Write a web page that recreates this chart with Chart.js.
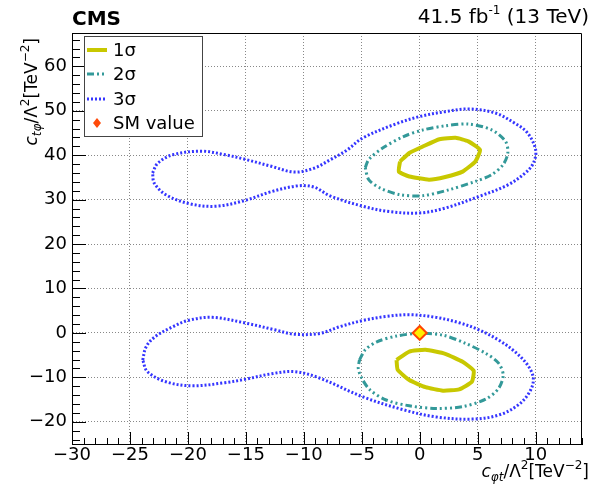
<!DOCTYPE html>
<html>
<head>
<meta charset="utf-8">
<script src="https://cdn.jsdelivr.net/npm/chart.js@4"></script>
<style>
  html, body { margin: 0; padding: 0; background: #fff; }
</style>
</head>
<body>
<canvas id="chart" width="591" height="495"></canvas>
<script>
// axis ticks
const xTicks = [-30, -25, -20, -15, -10, -5, 0, 5, 10];
const yTicks = [-20, -10, 0, 10, 20, 30, 40, 50, 60];
const legendLabels = ["1σ", "2σ", "3σ", "SM value"];

// contours, [c_phit, c_tphi]
const sigma1Upper = [[-1.7,38.6],[-0.9,40.5],[0.3,42.0],[1.7,43.6],[3.1,43.9],[4.2,43.1],[5.2,41.2],[4.8,38.6],[3.7,36.3],[2.2,35.1],[0.8,34.5],[-0.9,35.2],[-1.8,36.3],[-1.7,38.6]];
const sigma1Lower = [[-2.0,-6.1],[-0.9,-4.2],[0.5,-3.8],[2.2,-4.7],[3.7,-6.5],[4.65,-8.5],[4.5,-11.0],[3.4,-12.7],[2.0,-13.0],[0.5,-12.2],[-0.9,-10.6],[-1.9,-8.3],[-2.0,-6.1]];

const sigma2Upper = [[-4.7,37.2],[-4.4,39.0],[-3.2,41.6],[-1.4,44.2],[0.3,45.7],[2.2,46.6],[4.2,47.0],[6.2,45.7],[7.4,43.1],[7.6,40.5],[7.2,37.9],[6.2,35.6],[4.8,34.1],[2.5,32.2],[0.3,30.9],[-1.7,31.1],[-3.4,32.6],[-4.4,34.5],[-4.7,37.2]];
const sigma2Lower = [[-5.2,-6.1],[-4.7,-3.8],[-3.7,-2.0],[-2.0,-0.7],[0.0,-0.1],[2.0,-0.5],[3.9,-2.3],[5.7,-4.6],[6.8,-6.8],[7.2,-9.5],[6.8,-12.5],[5.7,-14.9],[3.7,-16.6],[1.4,-17.0],[-0.9,-16.4],[-2.9,-15.1],[-4.3,-12.8],[-5.0,-10.2],[-5.3,-8.0],[-5.2,-6.1]];

const sigma3Upper = [[-23.05,36.0],[-22.6,38.2],[-21.3,40.1],[-18.8,40.9],[-16.8,40.1],[-15.1,39.1],[-12.8,37.5],[-10.8,36.2],[-9.1,37.1],[-7.7,39.0],[-6.3,41.1],[-4.9,43.9],[-2.0,47.1],[0.0,48.7],[2.2,49.8],[4.2,50.4],[6.5,49.5],[8.2,47.2],[9.3,45.0],[10.0,41.2],[9.8,38.2],[9.1,36.0],[7.6,33.3],[5.1,30.7],[2.2,28.1],[0.0,27.0],[-2.6,27.3],[-4.9,28.5],[-7.7,30.8],[-9.1,32.8],[-10.5,33.1],[-12.8,31.8],[-15.1,29.8],[-17.6,28.5],[-19.9,29.1],[-21.9,31.1],[-22.9,33.7],[-23.05,36.0]];
const sigma3Lower = [[-23.9,-6.1],[-23.6,-3.1],[-22.8,-0.8],[-21.3,1.4],[-20.0,2.8],[-17.9,3.5],[-15.0,2.2],[-12.5,0.7],[-10.8,-0.3],[-8.6,-0.1],[-6.9,1.4],[-4.9,2.8],[-2.9,3.7],[-0.9,4.1],[1.4,3.5],[3.4,2.3],[5.1,0.7],[6.8,-1.6],[8.2,-4.2],[9.3,-7.2],[9.8,-10.2],[9.5,-13.2],[8.5,-16.2],[6.8,-18.5],[4.5,-19.4],[1.4,-18.9],[-1.4,-17.3],[-4.9,-14.4],[-8.6,-10.2],[-10.8,-8.7],[-12.8,-9.2],[-15.0,-10.4],[-16.8,-11.2],[-19.6,-11.9],[-21.9,-11.0],[-23.5,-8.7],[-23.9,-6.1]];

const smPoint = [[0, 0]];

const FONT = '"DejaVu Sans", sans-serif';
const col1 = "#c8c800", col2 = "#339999", col3 = "#3535ff";
const dash2 = [7, 3, 2, 3, 2, 3, 2, 3];
const dash3 = [2, 2];

const pts = arr => arr.map(p => ({ x: p[0], y: p[1] }));
const contour = (arr, color, width, dash, tension) => ({
  data: pts(arr),
  showLine: true,
  fill: false,
  borderColor: color,
  borderWidth: width,
  borderDash: dash,
  tension: tension,
  pointRadius: 0,
  pointHoverRadius: 0,
  order: 1
});

function fontOf(s) {
  return (s.italic ? "italic " : "") + (s.bold ? "bold " : "") + s.size + "px " + FONT;
}

function drawRich(ctx, segs, x, y, align) {
  let w = 0;
  segs.forEach(s => { ctx.font = fontOf(s); w += ctx.measureText(s.t).width; });
  let cx = align === "right" ? x - w : x;
  segs.forEach(s => {
    ctx.font = fontOf(s);
    ctx.fillText(s.t, cx, y + (s.dy || 0));
    cx += ctx.measureText(s.t).width;
  });
}

const titleSegs = sub => [
  { t: "c", size: 17, italic: true },
  { t: sub, size: 12, italic: true, dy: 4 },
  { t: "/Λ", size: 17 },
  { t: "2", size: 12, dy: -8 },
  { t: "[TeV", size: 17 },
  { t: "−2", size: 12, dy: -8 },
  { t: "]", size: 17 }
];

const decor = {
  id: "decor",
  afterDraw(chart) {
    const { ctx, chartArea: a, scales: { x, y } } = chart;
    ctx.save();
    ctx.strokeStyle = "#000";
    ctx.lineWidth = 1;
    ctx.setLineDash([]);

    // top and right frame
    ctx.beginPath();
    ctx.moveTo(a.left, a.top + 0.5);
    ctx.lineTo(a.right - 0.5, a.top + 0.5);
    ctx.lineTo(a.right - 0.5, a.bottom);
    ctx.stroke();

    // inward ticks
    ctx.beginPath();
    for (let v = -30; v <= 14; v++) {
      const px = Math.round(x.getPixelForValue(v)) + 0.5;
      const len = v % 5 === 0 ? 12 : 6;
      ctx.moveTo(px, a.bottom);
      ctx.lineTo(px, a.bottom - len);
    }
    for (let v = -24; v <= 66; v += 2) {
      const py = Math.round(y.getPixelForValue(v)) + 0.5;
      const len = v % 10 === 0 ? 14 : 8;
      ctx.moveTo(a.left, py);
      ctx.lineTo(a.left + len, py);
    }
    ctx.stroke();

    // legend
    ctx.fillStyle = "#fff";
    ctx.fillRect(84, 36, 118, 100);
    ctx.strokeStyle = "#444";
    ctx.strokeRect(84.5, 36.5, 118, 100);
    const rows = [50, 74, 99, 123];
    const styles = [[col1, 4, []], [col2, 3, dash2], [col3, 3, dash3]];
    styles.forEach((s, i) => {
      ctx.strokeStyle = s[0];
      ctx.lineWidth = s[1];
      ctx.setLineDash(s[2]);
      ctx.beginPath();
      ctx.moveTo(87, rows[i]);
      ctx.lineTo(107, rows[i]);
      ctx.stroke();
    });
    ctx.setLineDash([]);
    ctx.fillStyle = "#ff4a0a";
    ctx.beginPath();
    ctx.moveTo(97, rows[3] - 5);
    ctx.lineTo(101, rows[3]);
    ctx.lineTo(97, rows[3] + 5);
    ctx.lineTo(93, rows[3]);
    ctx.closePath();
    ctx.fill();
    ctx.fillStyle = "#000";
    ctx.font = "18px " + FONT;
    ctx.textBaseline = "middle";
    ctx.textAlign = "left";
    legendLabels.forEach((t, i) => ctx.fillText(t, 113, rows[i] + 1));

    // headers
    ctx.textBaseline = "alphabetic";
    ctx.font = "bold 20px " + FONT;
    ctx.fillText("CMS", 72, 25);
    drawRich(ctx, [
      { t: "41.5 fb", size: 20 },
      { t: "-1", size: 12, dy: -9 },
      { t: " (13 TeV)", size: 20 }
    ], 589, 23, "right");

    // axis titles
    drawRich(ctx, titleSegs("φt"), 589, 477, "right");
    ctx.translate(37, 38);
    ctx.rotate(-Math.PI / 2);
    drawRich(ctx, titleSegs("tφ"), 0, 0, "right");
    ctx.restore();
  }
};

const fmt = v => String(v).replace("-", "\u2212");

new Chart(document.getElementById("chart"), {
  type: "scatter",
  data: {
    datasets: [
      {
        data: pts(smPoint),
        pointStyle: "rectRot",
        pointRadius: 7,
        pointHoverRadius: 7,
        backgroundColor: "#ffee00",
        borderColor: "#ff4500",
        borderWidth: 2,
        order: 0
      },
      contour(sigma1Upper, col1, 4, [], 0.15),
      contour(sigma1Lower, col1, 4, [], 0.15),
      contour(sigma2Upper, col2, 3, dash2, 0.3),
      contour(sigma2Lower, col2, 3, dash2, 0.3),
      contour(sigma3Upper, col3, 3, dash3, 0.35),
      contour(sigma3Lower, col3, 3, dash3, 0.35)
    ]
  },
  options: {
    responsive: false,
    animation: false,
    devicePixelRatio: 1,
    layout: { padding: { top: 33, right: 1, left: 0, bottom: 0 } },
    plugins: { legend: { display: false }, tooltip: { enabled: false } },
    scales: {
      x: {
        type: "linear",
        min: -30,
        max: 14,
        afterBuildTicks: s => { s.ticks = xTicks.map(v => ({ value: v })); },
        afterFit: s => { s.height = 51; },
        ticks: {
          color: "#000",
          font: { family: FONT, size: 18 },
          padding: 1,
          maxRotation: 0,
          autoSkip: false,
          callback: fmt
        },
        grid: { color: "#888", drawTicks: false, lineWidth: 1 },
        border: { display: true, color: "#000", width: 1, dash: [1, 2] }
      },
      y: {
        type: "linear",
        min: -25,
        max: 67.5,
        afterBuildTicks: s => { s.ticks = yTicks.map(v => ({ value: v })); },
        afterFit: s => { s.width = 72; },
        ticks: {
          color: "#000",
          font: { family: FONT, size: 18 },
          padding: 5,
          autoSkip: false,
          callback: fmt
        },
        grid: { color: "#888", drawTicks: false, lineWidth: 1 },
        border: { display: true, color: "#000", width: 1, dash: [1, 2] }
      }
    }
  },
  plugins: [decor]
});
</script>
</body>
</html>
